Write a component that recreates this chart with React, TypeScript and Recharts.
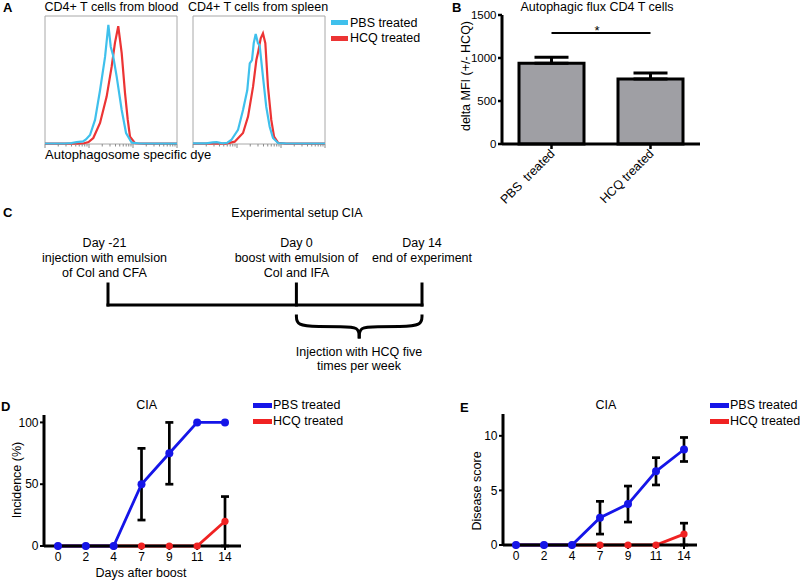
import React from 'react';
import {
  LineChart,
  Line,
  XAxis,
  YAxis,
  ReferenceArea,
  ReferenceLine,
  BarChart,
  Bar,
  ErrorBar,
  Legend,
} from 'recharts';

const FONT = '"Liberation Sans", Arial, Helvetica, sans-serif';
const W = 800;
const H = 580;
const AXW = 40; // y-axis width
const AXH = 30; // x-axis height

const CYAN = '#3fc0ec';
const HRED = '#ec3434';
const BLUE = '#1515e8';
const RED = '#f02222';
const GRAY = '#9f9fa4';
const BOX = '#a8a8a8';

// ---------- Panel A: flow histograms (x: position on 3-decade log axis, 0-100; y: % of max)
const bloodPBS: number[][] = [
  [0, 0.4], [15, 0.4], [20, 0.8], [24, 1.5], [28.8, 2], [31, 3.5], [34.1, 7], [37.9, 18.8],
  [41.7, 42], [45.5, 68], [48, 93], [49.8, 76], [51.5, 69.5], [54.3, 52.6], [58.1, 26.6],
  [61.4, 8.6], [65.7, 1], [72, 0.4], [100, 0.3],
];
const bloodHCQ: number[][] = [
  [0, 0.3], [25, 0.3], [29, 0.4], [33, 1.5], [36.6, 4.7], [41.7, 16.4], [46.7, 37], [50.5, 60.4],
  [53, 79], [55.5, 92], [58.1, 71], [60.6, 40], [62.7, 18.8], [64.4, 5.7], [68.2, 0.6], [75, 0.3], [100, 0.3],
];
const spleenPBS: number[][] = [
  [0, 0.5], [10, 0.5], [15, 1.2], [18, 1.5], [22, 0.6], [26, 1], [29, 3.1], [34.1, 11], [37.9, 26.6],
  [41.1, 42], [43, 63], [44.7, 65.6], [46, 78.7], [47.5, 86], [49.2, 78.7], [50.5, 77], [53, 52.6],
  [55.5, 29], [58.1, 13.5], [60.6, 4.7], [64.4, 0.8], [70, 0.5], [100, 0.4],
];
const spleenHCQ: number[][] = [
  [0, 0.3], [25, 0.3], [31.6, 1.8], [37.9, 8.6], [41.7, 21.4], [45.5, 44.8], [48, 65.6], [49.2, 71],
  [51.3, 82.6], [53, 86.5], [54.8, 78.7], [56.8, 44.8], [59.3, 18.8], [61.4, 5.7], [64.4, 1], [70, 0.3], [100, 0.3],
];
const histDecades = [0, 1, 2];
const histMultipliers = [1, 2, 3, 4, 5, 6, 7, 8, 9];
const histTicks = [
  ...histDecades.flatMap((d) => histMultipliers.map((m) => ((d + Math.log10(m)) * 100) / 3)),
  100,
];
const legendA = [
  { label: 'PBS treated', color: CYAN },
  { label: 'HCQ treated', color: HRED },
];

// ---------- Panel B
const barCategories = ['PBS\u00a0 treated', 'HCQ treated'];
const barValues = [940, 755];
const barErrors = [70, 70];
const barTicks = [0, 500, 1000, 1500];
const sigLevel = 1290;

// ---------- Panel C
const timelineDays = [-21, 0, 14];
const timelineLabels = [
  ['Day -21', 'injection with emulsion', 'of Col and CFA'],
  ['Day 0', 'boost with emulsion of', 'Col and IFA'],
  ['Day 14', 'end of experiment'],
];
const hcqNote = ['Injection with HCQ five', 'times per week'];
const braceLeft = [
  { x: 0, y: -0.45 }, { x: 0, y: -1.0 }, { x: 2.5, y: -1.03 }, { x: 5, y: -1.03 }, { x: 7, y: -1.03 }, { x: 7, y: -1.6 },
];
const braceRight = [
  { x: 7, y: -1.6 }, { x: 7, y: -1.03 }, { x: 9, y: -1.03 }, { x: 11.5, y: -1.03 }, { x: 14, y: -1.0 }, { x: 14, y: -0.45 },
];

// ---------- Panels D, E
const days = ['0', '2', '4', '7', '9', '11', '14'];
const incidencePBS = [0, 0, 0, 50, 75, 100, 100];
const incidencePBSErr = [0, 0, 0, 29, 25, 0, 0];
const incidenceHCQ = [0, 0, 0, 0, 0, 0, 20];
const incidenceHCQErr = [0, 0, 0, 0, 0, 0, 20];
const incidenceTicks = [0, 50, 100];
const scorePBS = [0, 0, 0, 2.5, 3.75, 6.75, 8.75];
const scorePBSErr = [0, 0, 0, 1.5, 1.65, 1.25, 1.1];
const scoreHCQ = [0, 0, 0, 0, 0, 0, 1];
const scoreHCQErr = [0, 0, 0, 0, 0, 0, 1];
const scoreTicks = [0, 5, 10];
const legendDE = [
  { label: 'PBS treated', color: BLUE },
  { label: 'HCQ treated', color: RED },
];

const toPts = (arr: number[][]) => arr.map(([x, y]) => ({ x, y }));
const nz = (v: number) => (v ? v : null);

function Txt({ x, y, text, size = 12.5, bold = false, align = 'center', rotate = 0 }: any) {
  const tx = align === 'center' ? '-50%' : align === 'left' ? '0%' : '-100%';
  return (
    <div
      style={{
        position: 'absolute',
        left: x,
        top: y,
        transform: `translate(${tx}, -50%) rotate(${rotate}deg)`,
        fontSize: size,
        fontWeight: bold ? 700 : 400,
        whiteSpace: 'pre',
        lineHeight: 1.2,
        fontFamily: FONT,
        color: '#000',
      }}
    >
      {text}
    </div>
  );
}

function LegendBox({ items, swatch, row, gap }: any) {
  return (
    <div style={{ fontFamily: FONT, fontSize: 12.5, color: '#000' }}>
      {items.map((it: any) => (
        <div key={it.label} style={{ display: 'flex', alignItems: 'center', height: row, whiteSpace: 'nowrap' }}>
          <span style={{ display: 'inline-block', width: swatch, height: 5, background: it.color, marginRight: gap }} />
          <span>{it.label}</span>
        </div>
      ))}
    </div>
  );
}

const LogTick = (props: any) => {
  const { x, y, payload } = props;
  const dec = (payload.value * 3) / 100;
  const major = Math.abs(dec - Math.round(dec)) < 1e-6;
  return <line x1={x} x2={x} y1={y} y2={y + (major ? 4 : 2.5)} stroke="#8a8a8a" strokeWidth={1} />;
};

const BarTick = (props: any) => {
  const { x, y, payload } = props;
  const ax = x + 4;
  const ay = y + 3.5;
  return (
    <text x={ax} y={ay} transform={`rotate(-45, ${ax}, ${ay})`} textAnchor="end" fontSize={12.5} fill="#000" fontFamily={FONT}>
      {payload.value}
    </text>
  );
};

const layer: React.CSSProperties = { position: 'absolute', left: 0, top: 0 };

function Hist({ left, right, pbs, hcq, legend }: any) {
  return (
    <div style={layer}>
      <LineChart width={W} height={H} margin={{ top: 16, left, right: W - right, bottom: H - 144 - AXH }}>
        <XAxis
          type="number"
          dataKey="x"
          domain={[0, 100]}
          ticks={histTicks}
          interval={0}
          tick={<LogTick />}
          tickLine={false}
          axisLine={false}
          height={AXH}
          tickSize={0}
          tickMargin={0}
        />
        <YAxis type="number" domain={[0, 100]} hide />
        <ReferenceArea x1={0} x2={100} y1={0} y2={100} fill="none" stroke={BOX} strokeWidth={1} ifOverflow="visible" />
        <Line data={toPts(hcq)} dataKey="y" type="linear" stroke={HRED} strokeWidth={2.2} dot={false} isAnimationActive={false} />
        <Line data={toPts(pbs)} dataKey="y" type="linear" stroke={CYAN} strokeWidth={2.2} dot={false} isAnimationActive={false} />
        {legend && (
          <Legend
            layout="vertical"
            align="center"
            verticalAlign="middle"
            wrapperStyle={{ left: 331, top: 14.75, width: 'auto', margin: 0 }}
            content={() => <LegendBox items={legendA} swatch={17} row={15.5} gap={2} />}
          />
        )}
      </LineChart>
    </div>
  );
}

function PanelB() {
  const table = barCategories.map((name, i) => ({ name, value: barValues[i], err: [0, barErrors[i]] }));
  return (
    <div style={layer}>
      <BarChart width={W} height={H} data={table} margin={{ top: 15, left: 502 - AXW, right: W - 700, bottom: H - 144 - AXH }}>
        <XAxis
          dataKey="name"
          height={AXH}
          interval={0}
          axisLine={{ stroke: '#000', strokeWidth: 3 }}
          tickLine={{ stroke: '#000', strokeWidth: 2.5 }}
          tickSize={5}
          tickMargin={2}
          tick={<BarTick />}
        />
        <YAxis
          width={AXW}
          domain={[0, 1500]}
          ticks={barTicks}
          interval={0}
          axisLine={{ stroke: '#000', strokeWidth: 3 }}
          tickLine={{ stroke: '#000', strokeWidth: 2.5 }}
          tickSize={4}
          tickMargin={1.5}
          tick={{ fill: '#000', fontSize: 11.5, fontFamily: FONT }}
        />
        <ReferenceLine
          segment={[{ x: barCategories[0], y: sigLevel }, { x: barCategories[1], y: sigLevel }]}
          stroke="#000"
          strokeWidth={2}
          label={{ value: '*', position: 'center', dy: -3, dx: -4, fill: '#000', fontSize: 13, fontFamily: FONT }}
        />
        <Bar dataKey="value" fill={GRAY} stroke="#000" strokeWidth={3} barSize={65} isAnimationActive={false}>
          <ErrorBar dataKey="err" width={17} stroke="#000" strokeWidth={3} />
        </Bar>
      </BarChart>
    </div>
  );
}

function PanelC() {
  const tl = timelineDays.map((d) => ({ x: d, y: 0 }));
  return (
    <div style={layer}>
      <LineChart width={W} height={H} margin={{ top: 284, left: 108, right: W - 422, bottom: H - 347 }}>
        <XAxis type="number" dataKey="x" domain={[-21, 14]} hide />
        <YAxis type="number" domain={[-2, 1]} hide />
        {timelineDays.map((d) => (
          <ReferenceLine key={d} segment={[{ x: d, y: 0 }, { x: d, y: 1 }]} stroke="#000" strokeWidth={3} strokeLinecap="square" />
        ))}
        <Line data={tl} dataKey="y" stroke="#000" strokeWidth={3} dot={false} isAnimationActive={false} strokeLinecap="square" />
        <Line data={braceLeft} dataKey="y" type="basis" stroke="#000" strokeWidth={3} dot={false} isAnimationActive={false} />
        <Line data={braceRight} dataKey="y" type="basis" stroke="#000" strokeWidth={3} dot={false} isAnimationActive={false} />
      </LineChart>
    </div>
  );
}

function TimeCourse({ x0, x1, yTop, yBottom, pad, domain, ticks, pbs, pbsErr, hcq, hcqErr, legendLeft }: any) {
  const table = days.map((d, i) => ({
    day: d,
    pbs: pbs[i],
    pbsErr: nz(pbsErr[i]),
    hcq: hcq[i],
    hcqErr: nz(hcqErr[i]),
  }));
  return (
    <div style={layer}>
      <LineChart width={W} height={H} data={table} margin={{ top: yTop, left: x0 - AXW, right: W - x1, bottom: H - yBottom - AXH }}>
        <XAxis
          dataKey="day"
          height={AXH}
          interval={0}
          padding={pad}
          axisLine={{ stroke: '#000', strokeWidth: 3 }}
          tickLine={{ stroke: '#000', strokeWidth: 2 }}
          tickSize={4}
          tickMargin={2}
          tick={{ fill: '#000', fontSize: 12, fontFamily: FONT }}
        />
        <YAxis
          width={AXW}
          domain={domain}
          ticks={ticks}
          interval={0}
          axisLine={{ stroke: '#000', strokeWidth: 3 }}
          tickLine={{ stroke: '#000', strokeWidth: 2 }}
          tickSize={4}
          tickMargin={1.5}
          tick={{ fill: '#000', fontSize: 12, fontFamily: FONT }}
        />
        <Line dataKey="hcq" stroke={RED} strokeWidth={2.8} dot={{ r: 3.6, fill: RED, stroke: RED, strokeWidth: 0 }} isAnimationActive={false}>
          <ErrorBar dataKey="hcqErr" width={4} stroke="#000" strokeWidth={2.7} />
        </Line>
        <Line dataKey="pbs" stroke={BLUE} strokeWidth={2.8} dot={{ r: 4, fill: BLUE, stroke: BLUE, strokeWidth: 0 }} isAnimationActive={false}>
          <ErrorBar dataKey="pbsErr" width={4} stroke="#000" strokeWidth={2.7} />
        </Line>
        <Legend
          layout="vertical"
          align="center"
          verticalAlign="middle"
          wrapperStyle={{ left: legendLeft, top: 397, width: 'auto', margin: 0 }}
          content={() => <LegendBox items={legendDE} swatch={19} row={16} gap={1} />}
        />
      </LineChart>
    </div>
  );
}

export default function App() {
  return (
    <div style={{ position: 'absolute', left: 0, top: 0, width: W, height: H, background: '#fff', fontFamily: FONT, overflow: 'hidden' }}>
      {/* Panel A */}
      <Hist left={45} right={177} pbs={bloodPBS} hcq={bloodHCQ} legend={false} />
      <Hist left={193} right={325} pbs={spleenPBS} hcq={spleenHCQ} legend={true} />
      <Txt x={3} y={8} text="A" bold size={13} align="left" />
      <Txt x={111.5} y={7} text="CD4+ T cells from blood" />
      <Txt x={258} y={7} text="CD4+ T cells from spleen" />
      <Txt x={45} y={155} text="Autophagosome specific dye" size={13} align="left" />

      {/* Panel B */}
      <PanelB />
      <Txt x={452} y={8} text="B" bold size={13} align="left" />
      <Txt x={597} y={6.5} text="Autophagic flux CD4 T cells" />
      <Txt x={465.5} y={76} text="delta MFI (+/- HCQ)" rotate={-90} />

      {/* Panel C */}
      <PanelC />
      <Txt x={3} y={212.5} text="C" bold size={13} align="left" />
      <Txt x={297} y={213.3} text="Experimental setup CIA" />
      {timelineLabels.map((lines, i) =>
        lines.map((ln, j) => (
          <Txt key={`${i}-${j}`} x={[104.5, 296.5, 422][i]} y={243.3 + j * 15} text={ln} />
        ))
      )}
      {hcqNote.map((ln, j) => (
        <Txt key={ln} x={359} y={351.7 + j * 14.5} text={ln} />
      ))}

      {/* Panel D */}
      <TimeCourse
        x0={44}
        x1={241}
        yTop={415}
        yBottom={546}
        pad={{ left: 14, right: 16 }}
        domain={[0, 106]}
        ticks={incidenceTicks}
        pbs={incidencePBS}
        pbsErr={incidencePBSErr}
        hcq={incidenceHCQ}
        hcqErr={incidenceHCQErr}
        legendLeft={253}
      />
      <Txt x={1} y={407} text="D" bold size={13} align="left" />
      <Txt x={146.7} y={405} text="CIA" />
      <Txt x={17} y={480} text="Incidence (%)" rotate={-90} />
      <Txt x={141} y={572.5} text="Days after boost" />

      {/* Panel E */}
      <TimeCourse
        x0={503}
        x1={697}
        yTop={414}
        yBottom={545}
        pad={{ left: 13, right: 13 }}
        domain={[0, 12]}
        ticks={scoreTicks}
        pbs={scorePBS}
        pbsErr={scorePBSErr}
        hcq={scoreHCQ}
        hcqErr={scoreHCQErr}
        legendLeft={710}
      />
      <Txt x={460} y={407.5} text="E" bold size={13} align="left" />
      <Txt x={606} y={405} text="CIA" />
      <Txt x={477} y={491} text="Disease score" rotate={-90} />
    </div>
  );
}
